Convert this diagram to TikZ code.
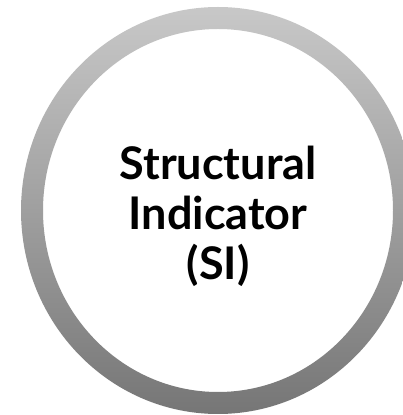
\documentclass[tikz,border=0pt]{standalone}
\usepackage{fontspec}
\setmainfont{Lato}
\definecolor{ringtop}{RGB}{200,200,200}
\definecolor{ringbottom}{RGB}{118,118,118}
\begin{document}
\begin{tikzpicture}[x=1pt, y=1pt,
    label text/.style={align=center, font=\fontsize{45}{50}\selectfont\bfseries, text=black}]
    \useasboundingbox (0,0) rectangle (403,415);
    \clip (0,0) rectangle (403,415);
    \fill[white] (0,0) rectangle (403,415);
    \coordinate (c) at (218,204.5);
    \shade[top color=ringtop, bottom color=ringbottom, even odd rule]
        (c) ellipse [x radius=197, y radius=203.5]
        (c) ellipse [x radius=175, y radius=181.5];
    \node[label text] (si) at (218,199) {Structural\\Indicator\\(SI)};
\end{tikzpicture}
\end{document}
